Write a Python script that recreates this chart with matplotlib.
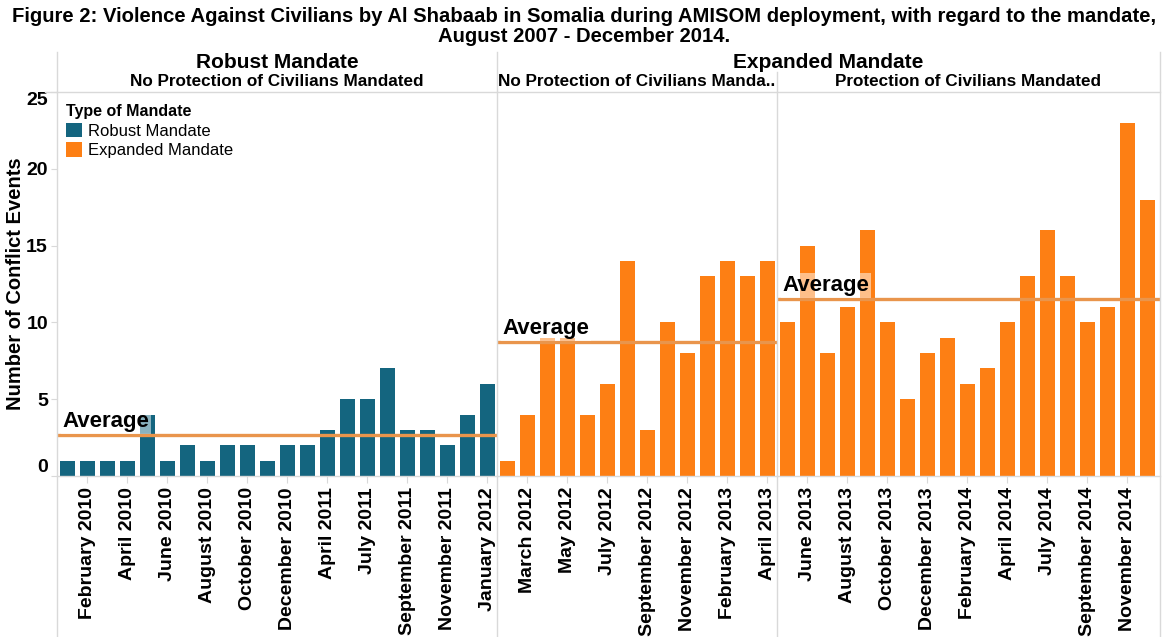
import matplotlib
matplotlib.use("Agg")
import matplotlib.pyplot as plt
from matplotlib.lines import Line2D
from matplotlib.patches import Patch
import numpy as np

# ---------------- data ----------------
robust_months = ['January 2010', 'February 2010', 'March 2010', 'April 2010', 'May 2010',
                 'June 2010', 'July 2010', 'August 2010', 'September 2010', 'October 2010',
                 'November 2010', 'December 2010', 'March 2011', 'April 2011', 'June 2011',
                 'July 2011', 'August 2011', 'September 2011', 'October 2011', 'November 2011',
                 'December 2011', 'January 2012']
robust_values = [1, 1, 1, 1, 4, 1, 2, 1, 2, 2, 1, 2, 2, 3, 5, 5, 7, 3, 3, 2, 4, 6]

exp_nopoc_months = ['February 2012', 'March 2012', 'April 2012', 'May 2012', 'June 2012',
                    'July 2012', 'August 2012', 'September 2012', 'October 2012',
                    'November 2012', 'January 2013', 'February 2013', 'March 2013', 'April 2013']
exp_nopoc_values = [1, 4, 9, 9, 4, 6, 14, 3, 10, 8, 13, 14, 13, 14]

exp_poc_months = ['May 2013', 'June 2013', 'July 2013', 'August 2013', 'September 2013',
                  'October 2013', 'November 2013', 'December 2013', 'January 2014',
                  'February 2014', 'March 2014', 'April 2014', 'June 2014', 'July 2014',
                  'August 2014', 'September 2014', 'October 2014', 'November 2014',
                  'December 2014']
exp_poc_values = [10, 15, 8, 11, 16, 10, 5, 8, 9, 6, 7, 10, 13, 16, 13, 10, 11, 23, 18]

yticks = [0, 5, 10, 15, 20, 25]

title_line1 = ("Figure 2: Violence Against Civilians by Al Shabaab in Somalia during AMISOM "
               "deployment, with regard to the mandate,")
title_line2 = "August 2007 - December 2014."

# ---------------- style ----------------
TEAL = '#14657f'
ORANGE = '#fd7f14'
AVG = '#e9954c'
GRID = '#d9d9d9'
FONT = 'Liberation Sans'

plt.rcParams['font.family'] = [FONT, 'DejaVu Sans']

W, H = 1164, 637
fig = plt.figure(figsize=(W / 100, H / 100), dpi=100)

def fx(px):
    return px / W

def fy(py):
    return 1 - py / H

top_px, bot_px = 92, 476
panels = [
    (57, 440, robust_months, robust_values, TEAL),
    (497, 280, exp_nopoc_months, exp_nopoc_values, ORANGE),
    (777, 383, exp_poc_months, exp_poc_values, ORANGE),
]

axes = []
for i, (left, width, months, vals, color) in enumerate(panels):
    ax = fig.add_axes([fx(left), fy(bot_px), width / W, (bot_px - top_px) / H])
    x = np.arange(len(vals))
    ax.bar(x, vals, width=0.75, color=color, zorder=2)
    n_slots = width / 20.0
    ax.set_xlim(-0.5, n_slots - 0.5)
    ax.set_ylim(0, 25)
    for s in ['left', 'right']:
        ax.spines[s].set_visible(False)
    ax.spines['top'].set_color(GRID)
    ax.spines['bottom'].set_color(GRID)
    ax.spines['top'].set_linewidth(1)
    ax.spines['bottom'].set_linewidth(1)
    ax.set_xticks(x[1::2])
    ax.set_xticklabels([months[j] for j in range(1, len(months), 2)], rotation=90,
                       fontsize=14, fontweight='bold', va='top', ha='center')
    ax.tick_params(axis='x', length=5, color=GRID, pad=3)
    if i == 0:
        ax.set_yticks(yticks)
        ax.set_yticklabels([str(t) for t in yticks], fontsize=14, fontweight='bold')
        ax.tick_params(axis='y', length=4, color=GRID, pad=2.5)
        labs = ax.get_yticklabels()
        labs[0].set_va('bottom')
        labs[-1].set_va('top')
        ax.set_ylabel('Number of Conflict Events', fontsize=14.5, fontweight='bold')
        ax.yaxis.set_label_coords(-0.072, 0.5)
    else:
        ax.set_yticks([])
    mean = float(np.mean(vals))
    ax.axhline(mean, color=AVG, lw=2.4, zorder=3)
    ax.annotate('Average', xy=(-0.5, mean), xytext=(4, 2), textcoords='offset points',
                fontsize=16, fontweight='bold', ha='left', va='bottom', zorder=4,
                bbox=dict(boxstyle='square,pad=0.08', fc='white', ec='none', alpha=0.5))
    axes.append(ax)

# legend
handles = [Patch(facecolor=TEAL, edgecolor='none', label='Robust Mandate'),
           Patch(facecolor=ORANGE, edgecolor='none', label='Expanded Mandate')]
leg = axes[0].legend(handles=handles, title='Type of Mandate', loc='upper left',
                     bbox_to_anchor=(fx(66), fy(104)), bbox_transform=fig.transFigure,
                     frameon=False, borderpad=0, borderaxespad=0, fontsize=12,
                     title_fontproperties={'weight': 'bold', 'size': 11.5},
                     alignment='left', handlelength=0.95, handleheight=0.95,
                     handletextpad=0.35, labelspacing=0.22)

# separators / header lines
def vline(xp, y0, y1):
    fig.add_artist(Line2D([fx(xp), fx(xp)], [fy(y0), fy(y1)], color=GRID, lw=1,
                          transform=fig.transFigure))

vline(57, 52, 637)
vline(497, 52, 637)
vline(777, 72, 637)
vline(1160, 52, 637)
fig.add_artist(Line2D([fx(45), fx(57)], [fy(92), fy(92)], color=GRID, lw=1,
                      transform=fig.transFigure))

# headers
fig.text(fx(277), fy(62), 'Robust Mandate', ha='center', va='center', fontsize=15,
         fontweight='bold')
fig.text(fx(828), fy(62), 'Expanded Mandate', ha='center', va='center', fontsize=15,
         fontweight='bold')
fig.text(fx(277), fy(81), 'No Protection of Civilians Mandated', ha='center', va='center',
         fontsize=12.3, fontweight='bold')
fig.text(fx(637), fy(81), 'No Protection of Civilians Manda..', ha='center', va='center',
         fontsize=12.3, fontweight='bold')
fig.text(fx(968), fy(81), 'Protection of Civilians Mandated', ha='center', va='center',
         fontsize=12.3, fontweight='bold')

# title
fig.text(fx(584), fy(16), title_line1, ha='center', va='center', fontsize=14.6,
         fontweight='bold')
fig.text(fx(584), fy(37), title_line2, ha='center', va='center', fontsize=14.6,
         fontweight='bold')

fig.savefig('out.png', dpi=100)
